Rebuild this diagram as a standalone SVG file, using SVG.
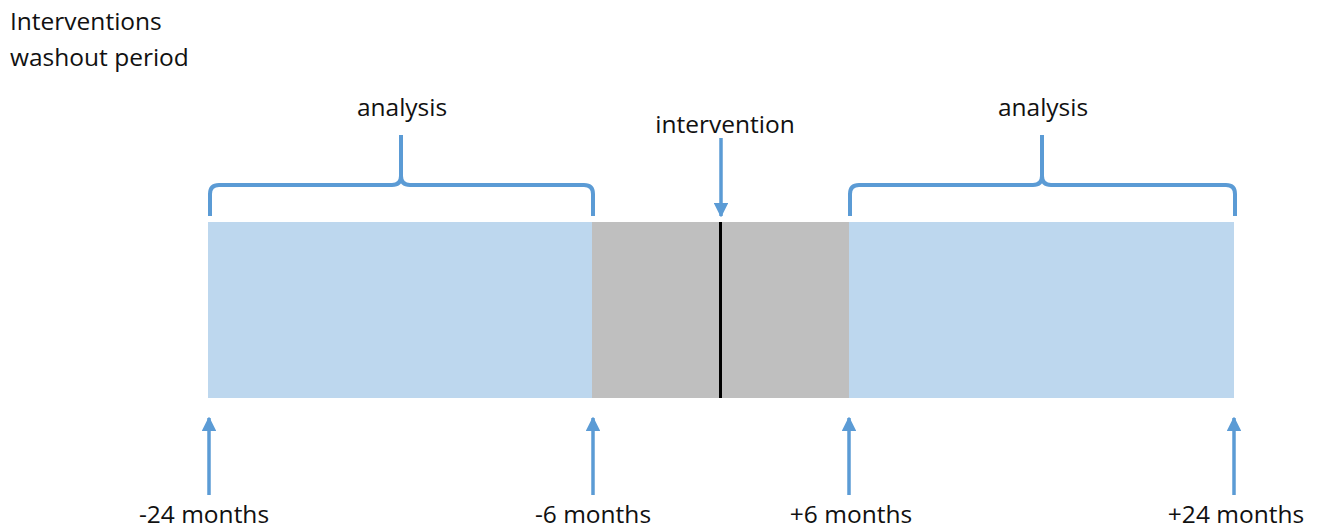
<svg xmlns="http://www.w3.org/2000/svg" width="1321" height="531" viewBox="0 0 1321 531">
<defs>
<style>
text{font-family:"Open Sans","Noto Sans","Liberation Sans",sans-serif;font-size:24.5px;fill:#111}
.brace{fill:none;stroke:#5B9BD5;stroke-width:4;stroke-linecap:butt}
.arr{stroke:#5B9BD5;stroke-width:3.5;fill:none}
</style>
<marker id="ah" viewBox="0 0 10 10" refX="9" refY="5" markerWidth="4.2" markerHeight="4.2" orient="auto" markerUnits="strokeWidth">
<path d="M0,0 L10,5 L0,10 z" fill="#5B9BD5"/>
</marker>
</defs>
<rect width="1321" height="531" fill="#fff"/>
<text x="10" y="30">Interventions</text>
<text x="10" y="66">washout period</text>
<g id="bar">
<rect x="208" y="222" width="384" height="176" fill="#BDD7EE"/>
<rect x="592" y="222" width="257" height="176" fill="#BFBFBF"/>
<rect x="849" y="222" width="385" height="176" fill="#BDD7EE"/>
<line x1="720.5" y1="222" x2="720.5" y2="398" stroke="#000" stroke-width="3"/>
</g>
<g id="brace-left">
<path class="brace" d="M210,216 V194 Q210,185 219,185 H392 Q401,185 401,176 V135 M401,176 Q401,185 410,185 H584 Q593,185 593,194 V216"/>
<text x="402" y="116" text-anchor="middle">analysis</text>
</g>
<g id="brace-right">
<path class="brace" d="M850,216 V194 Q850,185 859,185 H1033 Q1042,185 1042,176 V135 M1042,176 Q1042,185 1051,185 H1226 Q1235,185 1235,194 V216"/>
<text x="1043" y="116" text-anchor="middle">analysis</text>
</g>
<g id="intervention">
<text x="725" y="133" text-anchor="middle">intervention</text>
</g>
<g id="labels">
<text x="204" y="523" text-anchor="middle">-24 months</text>
<text x="593" y="523" text-anchor="middle">-6 months</text>
<text x="851" y="523" text-anchor="middle">+6 months</text>
<text x="1236" y="523" text-anchor="middle">+24 months</text>
</g>
<g id="connectors">
<line class="arr" x1="721" y1="138" x2="721" y2="216" marker-end="url(#ah)"/>
<line class="arr" x1="209" y1="495" x2="209" y2="418" marker-end="url(#ah)"/>
<line class="arr" x1="593" y1="495" x2="593" y2="418" marker-end="url(#ah)"/>
<line class="arr" x1="849" y1="495" x2="849" y2="418" marker-end="url(#ah)"/>
<line class="arr" x1="1234" y1="495" x2="1234" y2="418" marker-end="url(#ah)"/>
</g>
</svg>
